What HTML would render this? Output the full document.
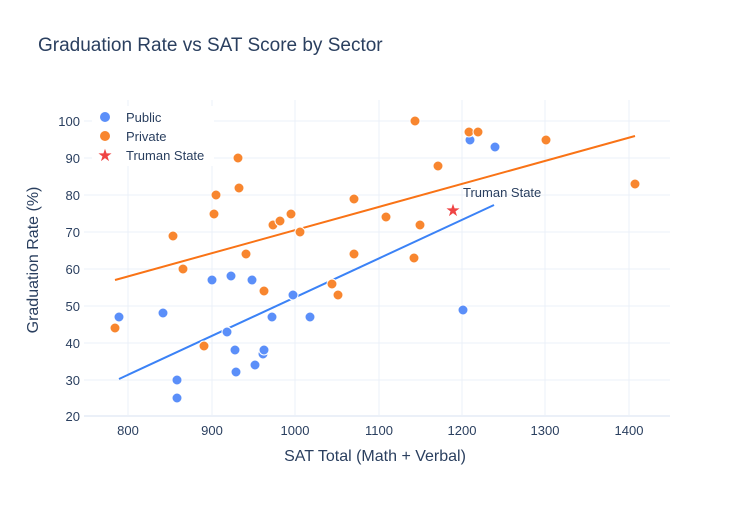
<!DOCTYPE html>
<html><head><meta charset="utf-8"><style>
body{margin:0;background:#fff;}
svg text{font-family:"Liberation Sans",sans-serif;fill:#2a3f5f;}
</style></head><body>
<svg width="750" height="500" xmlns="http://www.w3.org/2000/svg">
<rect width="750" height="500" fill="#fff"/>
<text x="38" y="51" font-size="19">Graduation Rate vs SAT Score by Sector</text>
<g stroke="#ebf0f8" stroke-width="1">
<line x1="84" x2="670" y1="121" y2="121"/><line x1="84" x2="670" y1="158" y2="158"/><line x1="84" x2="670" y1="195" y2="195"/><line x1="84" x2="670" y1="232" y2="232"/><line x1="84" x2="670" y1="269" y2="269"/><line x1="84" x2="670" y1="306" y2="306"/><line x1="84" x2="670" y1="343" y2="343"/><line x1="84" x2="670" y1="380" y2="380"/><line x1="84" x2="670" y1="416" y2="416" stroke-width="2"/>
<line x1="128" x2="128" y1="100" y2="416"/><line x1="212" x2="212" y1="100" y2="416"/><line x1="295" x2="295" y1="100" y2="416"/><line x1="379" x2="379" y1="100" y2="416"/><line x1="462" x2="462" y1="100" y2="416"/><line x1="545" x2="545" y1="100" y2="416"/><line x1="629" x2="629" y1="100" y2="416"/>
</g>
<g font-size="13" text-anchor="end">
<text x="80" y="126">100</text><text x="80" y="163">90</text><text x="80" y="200">80</text><text x="80" y="237">70</text><text x="80" y="274">60</text><text x="80" y="311">50</text><text x="80" y="348">40</text><text x="80" y="385">30</text><text x="80" y="421">20</text>
</g>
<g font-size="13" text-anchor="middle">
<text x="128" y="435">800</text><text x="212" y="435">900</text><text x="295" y="435">1000</text><text x="379" y="435">1100</text><text x="462" y="435">1200</text><text x="545" y="435">1300</text><text x="629" y="435">1400</text>
</g>
<text x="375" y="461" font-size="16" text-anchor="middle">SAT Total (Math + Verbal)</text>
<text transform="translate(38,260) rotate(-90)" font-size="16" text-anchor="middle">Graduation Rate (%)</text>
<line x1="115" y1="280" x2="635" y2="136" stroke="#f97316" stroke-width="2"/>
<line x1="119" y1="379" x2="494" y2="205" stroke="#3b82f6" stroke-width="2"/>
<g fill="#5b8ff9" stroke="#fff" stroke-width="1">
<circle cx="119" cy="317" r="5"/><circle cx="163" cy="313" r="5"/><circle cx="177" cy="380" r="5"/><circle cx="177" cy="398" r="5"/><circle cx="212" cy="280" r="5"/><circle cx="227" cy="332" r="5"/><circle cx="231" cy="276" r="5"/><circle cx="235" cy="350" r="5"/><circle cx="236" cy="372" r="5"/><circle cx="252" cy="280" r="5"/><circle cx="255" cy="365" r="5"/><circle cx="263" cy="354" r="5"/><circle cx="264" cy="350" r="5"/><circle cx="272" cy="317" r="5"/><circle cx="293" cy="295" r="5"/><circle cx="310" cy="317" r="5"/><circle cx="463" cy="310" r="5"/><circle cx="470" cy="140" r="5"/><circle cx="495" cy="147" r="5"/>
</g>
<g fill="#f8862f" stroke="#fff" stroke-width="1">
<circle cx="115" cy="328" r="5"/><circle cx="173" cy="236" r="5"/><circle cx="183" cy="269" r="5"/><circle cx="204" cy="346" r="5"/><circle cx="214" cy="214" r="5"/><circle cx="216" cy="195" r="5"/><circle cx="238" cy="158" r="5"/><circle cx="239" cy="188" r="5"/><circle cx="246" cy="254" r="5"/><circle cx="264" cy="291" r="5"/><circle cx="273" cy="225" r="5"/><circle cx="280" cy="221" r="5"/><circle cx="291" cy="214" r="5"/><circle cx="300" cy="232" r="5"/><circle cx="332" cy="284" r="5"/><circle cx="338" cy="295" r="5"/><circle cx="354" cy="199" r="5"/><circle cx="354" cy="254" r="5"/><circle cx="386" cy="217" r="5"/><circle cx="415" cy="121" r="5"/><circle cx="414" cy="258" r="5"/><circle cx="420" cy="225" r="5"/><circle cx="438" cy="166" r="5"/><circle cx="469" cy="132" r="5"/><circle cx="478" cy="132" r="5"/><circle cx="546" cy="140" r="5"/><circle cx="635" cy="184" r="5"/>
</g>
<text x="453" y="216" font-size="17" style="fill:#ef4444" text-anchor="middle">★</text>
<text x="463" y="197" font-size="13">Truman State</text>
<rect x="92" y="106" width="122" height="60" fill="#fff"/>
<circle cx="105" cy="117" r="5" fill="#5b8ff9"/>
<circle cx="105" cy="136" r="5" fill="#f8862f"/>
<text x="105" y="161" font-size="17" style="fill:#ef4444" text-anchor="middle">★</text>
<g font-size="13"><text x="126" y="122">Public</text><text x="126" y="141">Private</text><text x="126" y="160">Truman State</text></g>
</svg>
</body></html>
